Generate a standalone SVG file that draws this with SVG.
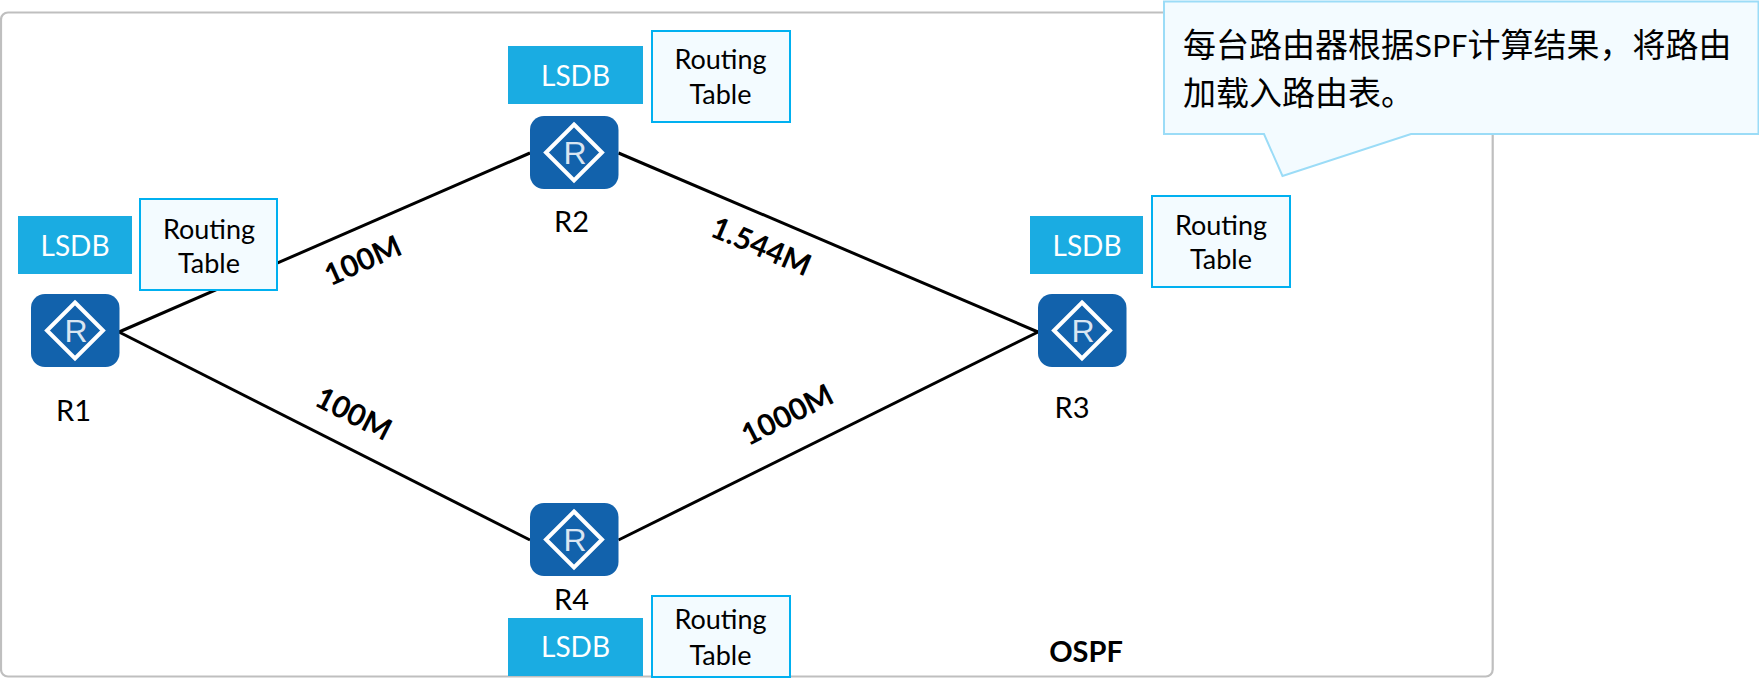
<svg xmlns="http://www.w3.org/2000/svg" width="1759" height="693" viewBox="0 0 1759 693">
<style>
.lsdb{fill:#1aace2}
.rt{fill:#f3fbff;stroke:#00b0f0;stroke-width:2}
.t{font-family:Lato,"Open Sans","Liberation Sans",sans-serif;font-size:27px;text-anchor:middle;fill:#000}
.l{font-size:29px}
.w{fill:#fff;font-size:28px}
.b{font-family:Lato,"Open Sans","Liberation Sans",sans-serif;font-size:30px;font-weight:700;text-anchor:middle;fill:#000}
.c{fill:none;stroke:#000;stroke-width:3}
.rb{fill:#1262ac}
.d{fill:none;stroke:#fff;stroke-width:4}
.r{font-family:"Liberation Sans",sans-serif;font-size:32px;text-anchor:middle;fill:#fff;fill-opacity:.85}
</style>
<defs>
<g id="router">
<rect class="rb" x="0" y="0" width="88.500" height="73" rx="14"/>
<path class="d" d="M44 8.500L72 36.500L44 64.500L16 36.500Z"/>
<text class="r" x="45" y="48">R</text>
</g>
</defs>
<rect id="frame" x="1" y="12.500" width="1491.700" height="664" rx="7" fill="#fff" stroke="#bfbfbf" stroke-width="2.200"/>
<g id="connectors">
<path class="c" d="M119 332L530 153"/>
<path class="c" d="M119 332L530 540"/>
<path class="c" d="M618.500 153L1038 332"/>
<path class="c" d="M618.500 540L1038 332"/>
</g>
<g id="R1"><use href="#router" x="31" y="294"/><text class="t l" x="73.500" y="421">R1</text>
<rect class="lsdb" x="18" y="216" width="114" height="58"/><text class="t w" x="75" y="256">LSDB</text>
<rect class="rt" x="140" y="199" width="137" height="91"/><text class="t" x="209" y="239">Routing</text><text class="t" x="209" y="273">Table</text></g>
<g id="R2"><use href="#router" x="530" y="116"/><text class="t l" x="571.500" y="232">R2</text>
<rect class="lsdb" x="508" y="46" width="135" height="58"/><text class="t w" x="575.500" y="86">LSDB</text>
<rect class="rt" x="652" y="31" width="138" height="91"/><text class="t" x="720.500" y="69">Routing</text><text class="t" x="720.500" y="104">Table</text></g>
<g id="R3"><use href="#router" x="1038" y="294"/><text class="t l" x="1072" y="418">R3</text>
<rect class="lsdb" x="1030" y="216" width="113" height="58"/><text class="t w" x="1087" y="256">LSDB</text>
<rect class="rt" x="1152" y="196" width="138" height="91"/><text class="t" x="1221" y="235">Routing</text><text class="t" x="1221" y="269">Table</text></g>
<g id="R4"><use href="#router" x="530" y="503"/><text class="t l" x="571.500" y="610">R4</text>
<rect class="lsdb" x="508" y="618" width="135" height="58"/><text class="t w" x="575.500" y="657">LSDB</text>
<rect class="rt" x="652" y="596" width="138" height="81"/><text class="t" x="720.500" y="629">Routing</text><text class="t" x="720.500" y="665">Table</text></g>
<g id="labels">
<text class="b" transform="translate(367 270) rotate(-24)">100M</text>
<text class="b" transform="translate(757 256) rotate(23)">1.544M</text>
<text class="b" transform="translate(349 423) rotate(27)">100M</text>
<text class="b" transform="translate(792 424) rotate(-27)">1000M</text>
<text class="b" x="1086" y="662" style="font-size:29px">OSPF</text>
</g>
<g id="callout">
<path d="M1164 1.500H1758.500V134H1411L1282.500 176L1264 134H1164Z" fill="#f3fbff" stroke="#9bdcf7" stroke-width="2"/>
<text font-family="'Noto Sans CJK SC','Noto Sans',sans-serif" font-size="33" fill="#000"><tspan x="1183" y="57">每台路由器根据<tspan font-size="30">SPF</tspan>计算结果，将路由</tspan><tspan x="1183" y="105">加载入路由表。</tspan></text>
</g>
</svg>
